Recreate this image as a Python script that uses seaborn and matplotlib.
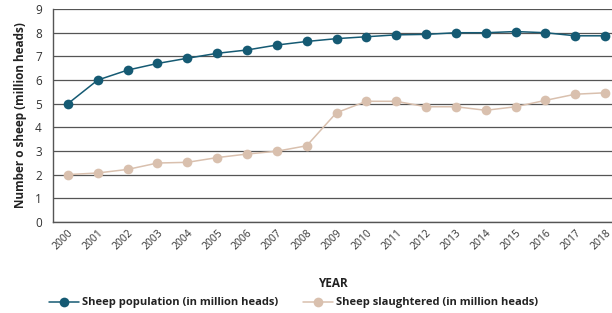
import matplotlib
matplotlib.use("Agg")
import matplotlib.pyplot as plt
import seaborn as sns
import pandas as pd

years = list(range(2000, 2019))
population = [5.0, 6.0, 6.42, 6.7, 6.92, 7.13, 7.27, 7.48, 7.63, 7.75,
              7.83, 7.91, 7.93, 8.0, 8.0, 8.05, 8.0, 7.87, 7.87]
slaughtered = [2.0, 2.07, 2.22, 2.49, 2.52, 2.72, 2.87, 2.99, 3.22, 4.62,
               5.1, 5.1, 4.87, 4.87, 4.72, 4.87, 5.14, 5.4, 5.46]

sns.set_style("white")
plt.rcParams['font.family'] = ['Open Sans', 'DejaVu Sans']

fig = plt.figure(figsize=(6.12, 3.13), dpi=100)
ax = fig.add_axes([0.0866, 0.291, 0.9134, 0.68])

blue = "#155a73"
beige = "#d9c0ae"

sns.lineplot(x=years, y=population, ax=ax, color=blue, marker="o",
             markersize=7, markeredgewidth=0, linewidth=1.1,
             label="Sheep population (in million heads)", zorder=3)
sns.lineplot(x=years, y=slaughtered, ax=ax, color=beige, marker="o",
             markersize=7, markeredgewidth=0, linewidth=1.1,
             label="Sheep slaughtered (in million heads)", zorder=3)

ax.set_xlim(1999.5, 2018.23)
ax.set_ylim(0, 9)
ax.set_yticks(range(0, 10))
ax.set_xticks(years)
ax.set_xticklabels([str(y) for y in years], rotation=45, fontsize=7.5,
                   ha="right", rotation_mode="anchor", color="#333333")
ax.tick_params(axis="y", labelsize=8.5, colors="#333333", length=0, pad=8)
ax.tick_params(axis="x", length=0, pad=4)
ax.yaxis.grid(True, color="#555555", linewidth=0.9)
ax.xaxis.grid(False)

for side in ["top", "right"]:
    ax.spines[side].set_visible(False)
for side in ["left", "bottom"]:
    ax.spines[side].set_color("#555555")
    ax.spines[side].set_linewidth(1.0)

ax.set_ylabel("Number o sheep (million heads)", fontsize=8.5,
              fontweight="bold", color="#222222", labelpad=6)
ax.set_xlabel("YEAR", fontsize=8.5, fontweight="bold", color="#222222",
              labelpad=18)

ax.get_legend().remove()
handles, labels = ax.get_legend_handles_labels()
leg = fig.legend(handles, labels, loc="center left",
                 bbox_to_anchor=(0.08, 0.032), ncol=2, frameon=False,
                 fontsize=8, borderpad=0, borderaxespad=0,
                 columnspacing=2.2, handlelength=2.7, handletextpad=0.3)
for t in leg.get_texts():
    t.set_fontweight("bold")
    t.set_color("#222222")

fig.savefig("out.png", dpi=100)
